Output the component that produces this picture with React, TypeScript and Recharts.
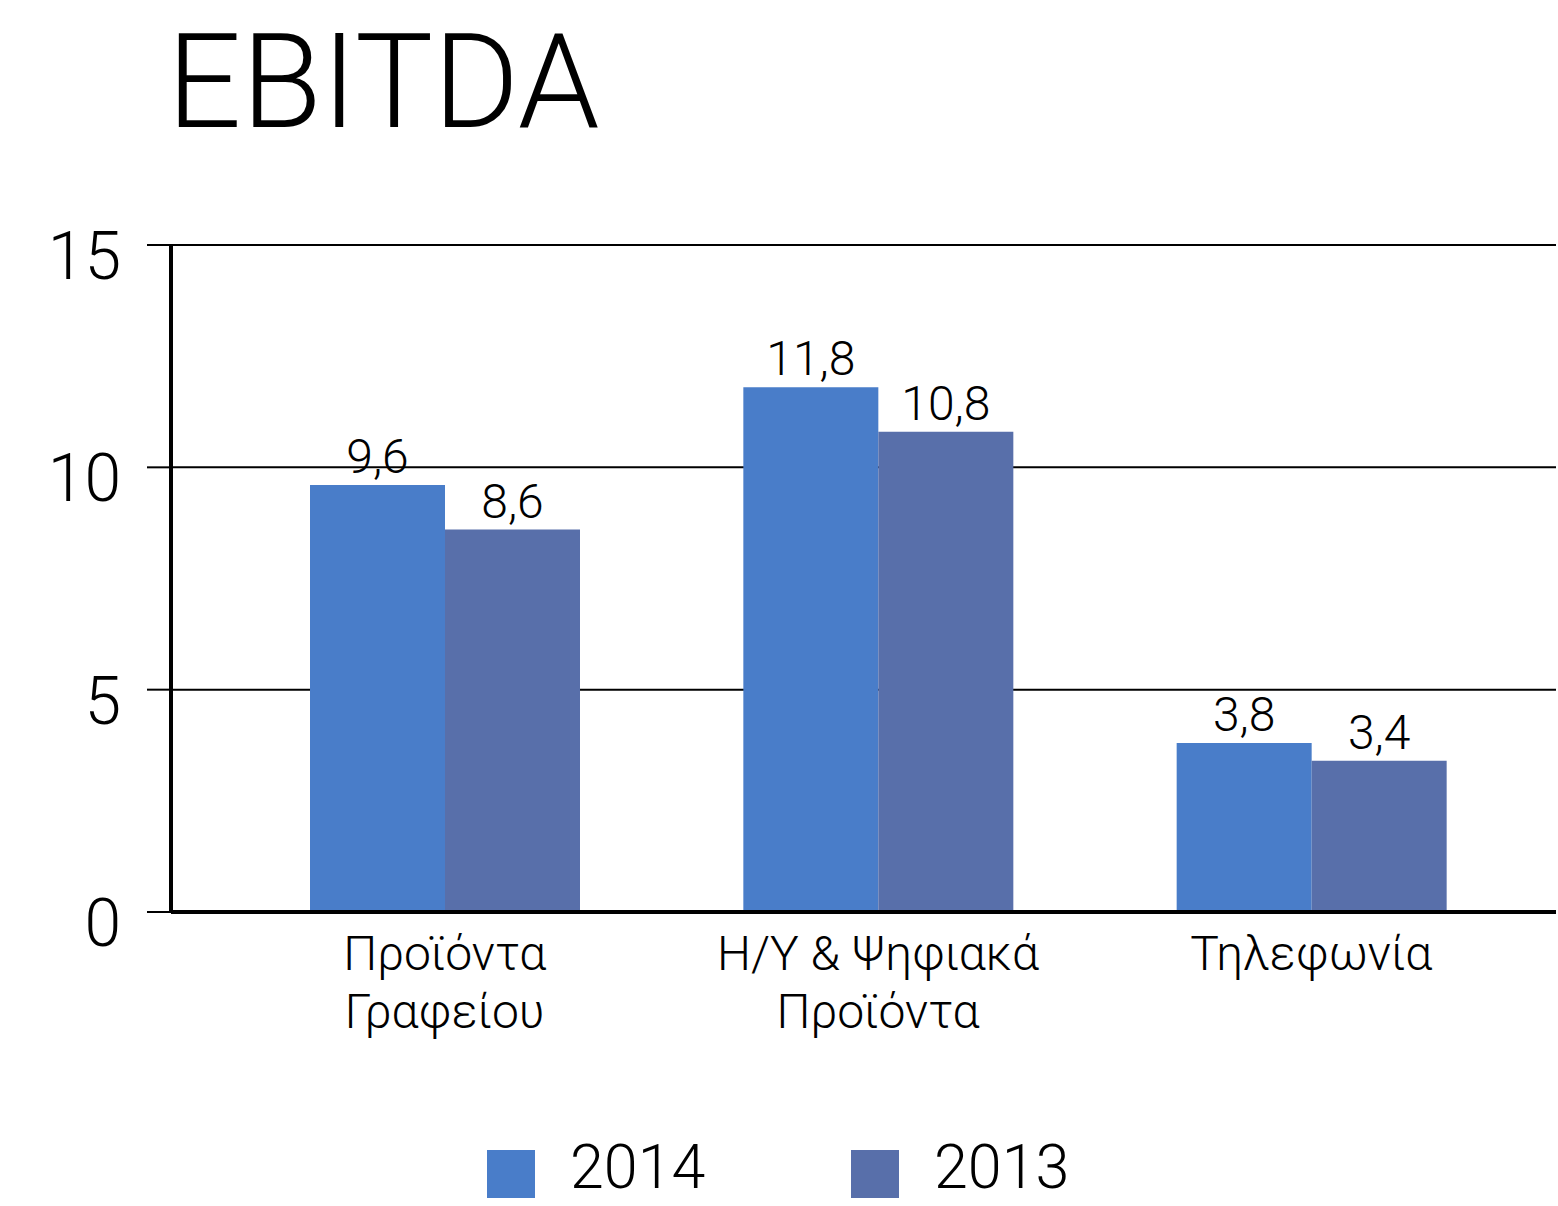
import React from "react";
import { BarChart, Bar, XAxis, YAxis, CartesianGrid, LabelList } from "recharts";

const categories = ["Προϊόντα Γραφείου", "Η/Υ & Ψηφιακά Προϊόντα", "Τηλεφωνία"];
const categoryLines = [["Προϊόντα", "Γραφείου"], ["Η/Υ & Ψηφιακά", "Προϊόντα"], ["Τηλεφωνία"]];
const values2014 = [9.6, 11.8, 3.8];
const values2013 = [8.6, 10.8, 3.4];
const seriesNames = ["2014", "2013"];
const seriesColors = ["#497DC9", "#586FAA"];
const yTicks = [0, 5, 10, 15];
const title = "EBITDA";

const data = categories.map((c, i) => ({
  name: c,
  v2014: values2014[i],
  v2013: values2013[i],
}));

const FONT = "Roboto, 'Noto Sans', sans-serif";

const fmt = (v: any) => Number(v).toFixed(1).replace(".", ",");

const XTick = (props: any) => {
  const { x, y, payload, index } = props;
  const lines = categoryLines[index] || [String(payload.value)];
  return (
    <text x={x} y={y} textAnchor="middle" fontFamily={FONT} fontWeight={300} fontSize={48} fill="#000">
      {lines.map((l: string, i: number) => (
        <tspan key={i} x={x} y={y + 58 + i * 58}>
          {l}
        </tspan>
      ))}
    </text>
  );
};

const YTick = (props: any) => {
  const { x, y, payload } = props;
  return (
    <text x={x} y={y + 34} textAnchor="end" fontFamily={FONT} fontWeight={300} fontSize={66} fill="#000">
      {payload.value}
    </text>
  );
};

export default function App() {
  const keys = ["v2014", "v2013"];
  return (
    <div style={{ position: "absolute", left: 0, top: 0, width: 1558, height: 1206, background: "#fff" }}>
      <div
        style={{
          position: "absolute",
          left: 167,
          top: 2,
          fontFamily: FONT,
          fontWeight: 300,
          fontSize: 131,
          lineHeight: "160px",
          color: "#000",
        }}
      >
        {title}
      </div>
      <BarChart
        width={1558}
        height={1206}
        data={data}
        margin={{ top: 245, right: 2, bottom: 1206 - 912 - 150, left: 0 }}
        barGap={0}
        barSize={135}
      >
        <CartesianGrid horizontal={true} vertical={false} stroke="#000" strokeWidth={2} />
        <XAxis
          dataKey="name"
          height={150}
          padding={{ left: 57, right: 28 }}
          tickLine={false}
          tickSize={0}
          tickMargin={0}
          axisLine={{ stroke: "#000", strokeWidth: 4 }}
          tick={<XTick />}
          interval={0}
        />
        <YAxis
          width={171}
          domain={[0, 15]}
          ticks={yTicks}
          tickSize={24}
          tickMargin={26}
          tickLine={{ stroke: "#000", strokeWidth: 2 }}
          axisLine={{ stroke: "#000", strokeWidth: 4 }}
          tick={<YTick />}
        />
        {keys.map((k, i) => (
          <Bar key={k} dataKey={k} name={seriesNames[i]} fill={seriesColors[i]} isAnimationActive={false}>
            <LabelList
              dataKey={k}
              position="top"
              offset={12}
              formatter={fmt}
              style={{ fontFamily: FONT, fontWeight: 300, fontSize: 48, fill: "#000" }}
            />
          </Bar>
        ))}
      </BarChart>
      <div style={{ position: "absolute", left: 487, top: 1144, height: 60, display: "flex", alignItems: "center" }}>
        {seriesNames.map((n, i) => (
          <div key={n} style={{ display: "flex", alignItems: "center", width: 364, height: 60 }}>
            <div style={{ width: 48, height: 48, background: seriesColors[i], flex: "none" }} />
            <span
              style={{
                position: "relative",
                top: -7,
                marginLeft: 35,
                fontFamily: FONT,
                fontWeight: 300,
                fontSize: 61,
                lineHeight: "60px",
                height: 60,
                color: "#000",
                whiteSpace: "nowrap",
              }}
            >
              {n}
            </span>
          </div>
        ))}
      </div>
    </div>
  );
}
